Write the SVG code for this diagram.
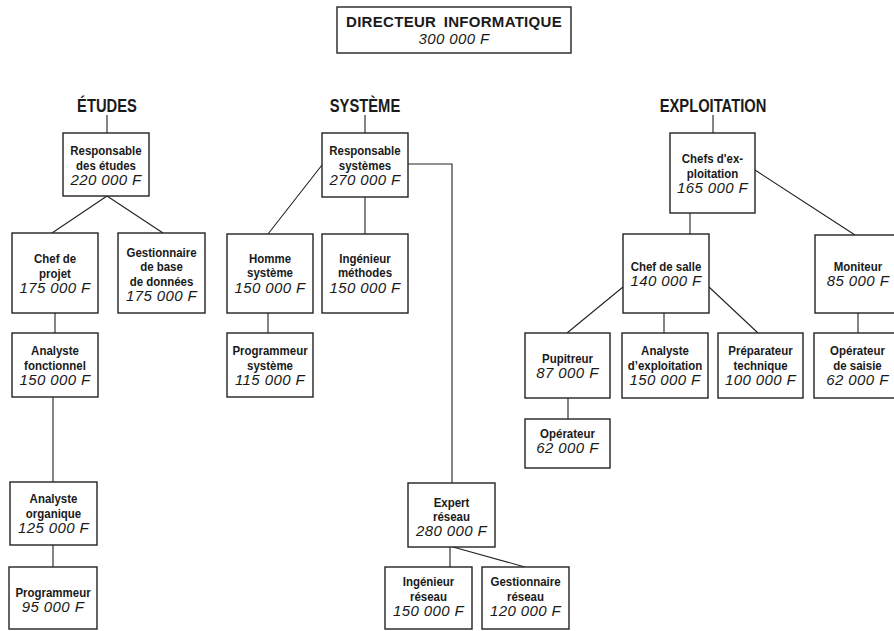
<svg xmlns="http://www.w3.org/2000/svg" width="894" height="631" viewBox="0 0 894 631">
<style>
.b{fill:#fff;stroke:#222;stroke-width:1.4}
.c{fill:none;stroke:#222;stroke-width:1.1}
text{fill:#1a1a1a;text-anchor:middle}
.l{font-family:"Liberation Sans",Arial,sans-serif;font-weight:bold;font-size:13.5px}
.n{font-family:"Liberation Sans",Arial,sans-serif;font-style:italic;font-size:15px;letter-spacing:0.4px}
.h{font-family:"Liberation Sans",Arial,sans-serif;font-weight:bold;font-size:18px}
.t{font-family:"Liberation Sans",Arial,sans-serif;font-weight:bold;font-size:15px;letter-spacing:0.3px;word-spacing:3px}
</style>
<rect width="894" height="631" fill="#fff"/>
<g id="connectors">
<path class="c" d="M107 115V133M107 196L52 233M107 196L163 233M55 313V333M53 397V482M53 545V567"/>
<path class="c" d="M365 115V133M322 165L268 234M365 197V234M268 313V333M408 164H452V483M450 547V567M453 547L525 567"/>
<path class="c" d="M713 115V133M690 213V234M755 170L855 235M623 287L567 333M664 313V333M709 287L758 333M568 398V419M858 313V333"/>
</g>
<g id="directeur"><rect class="b" x="337" y="7" width="234" height="46"/><text class="t" x="454" y="27">DIRECTEUR INFORMATIQUE</text><text class="n" x="454" y="43.5">300 000 F</text></g>
<g id="h-etudes"><text class="h" transform="translate(107 112) scale(.82 1)">ÉTUDES</text></g>
<g id="h-systeme"><text class="h" transform="translate(365 112) scale(.82 1)">SYSTÈME</text></g>
<g id="h-exploitation"><text class="h" transform="translate(713 112) scale(.82 1)">EXPLOITATION</text></g>
<g id="resp-etudes"><rect class="b" x="63" y="133" width="86" height="63"/><text class="l" transform="translate(106 155) scale(.85 1)">Responsable</text><text class="l" transform="translate(106 170) scale(.85 1)">des études</text><text class="n" x="106" y="185">220 000 F</text></g>
<g id="chef-projet"><rect class="b" x="12" y="233" width="86" height="80"/><text class="l" transform="translate(55 263) scale(.85 1)">Chef de</text><text class="l" transform="translate(55 278) scale(.85 1)">projet</text><text class="n" x="55" y="293">175 000 F</text></g>
<g id="gest-bdd"><rect class="b" x="118" y="233" width="87" height="80"/><text class="l" transform="translate(161.5 257) scale(.85 1)">Gestionnaire</text><text class="l" transform="translate(161.5 271) scale(.85 1)">de base</text><text class="l" transform="translate(161.5 286) scale(.85 1)">de données</text><text class="n" x="161.5" y="301">175 000 F</text></g>
<g id="analyste-fonc"><rect class="b" x="12" y="333" width="86" height="64"/><text class="l" transform="translate(55 355) scale(.85 1)">Analyste</text><text class="l" transform="translate(55 370) scale(.85 1)">fonctionnel</text><text class="n" x="55" y="385">150 000 F</text></g>
<g id="analyste-org"><rect class="b" x="10" y="482" width="87" height="63"/><text class="l" transform="translate(53.5 503) scale(.85 1)">Analyste</text><text class="l" transform="translate(53.5 518) scale(.85 1)">organique</text><text class="n" x="53.5" y="533">125 000 F</text></g>
<g id="programmeur"><rect class="b" x="9" y="567" width="88" height="62"/><text class="l" transform="translate(53 597) scale(.85 1)">Programmeur</text><text class="n" x="53" y="612">95 000 F</text></g>
<g id="resp-systemes"><rect class="b" x="322" y="133" width="86" height="64"/><text class="l" transform="translate(365 155) scale(.85 1)">Responsable</text><text class="l" transform="translate(365 170) scale(.85 1)">systèmes</text><text class="n" x="365" y="185">270 000 F</text></g>
<g id="homme-systeme"><rect class="b" x="227" y="234" width="86" height="79"/><text class="l" transform="translate(270 263) scale(.85 1)">Homme</text><text class="l" transform="translate(270 277) scale(.85 1)">système</text><text class="n" x="270" y="293">150 000 F</text></g>
<g id="ing-methodes"><rect class="b" x="322" y="234" width="86" height="79"/><text class="l" transform="translate(365 263) scale(.85 1)">Ingénieur</text><text class="l" transform="translate(365 277) scale(.85 1)">méthodes</text><text class="n" x="365" y="293">150 000 F</text></g>
<g id="prog-systeme"><rect class="b" x="227" y="333" width="86" height="64"/><text class="l" transform="translate(270 355) scale(.85 1)">Programmeur</text><text class="l" transform="translate(270 370) scale(.85 1)">système</text><text class="n" x="270" y="385">115 000 F</text></g>
<g id="expert-reseau"><rect class="b" x="408" y="483" width="87" height="64"/><text class="l" transform="translate(451.5 507) scale(.85 1)">Expert</text><text class="l" transform="translate(451.5 521) scale(.85 1)">réseau</text><text class="n" x="451.5" y="536">280 000 F</text></g>
<g id="ing-reseau"><rect class="b" x="385" y="567" width="87" height="62"/><text class="l" transform="translate(428.5 586) scale(.85 1)">Ingénieur</text><text class="l" transform="translate(428.5 601) scale(.85 1)">réseau</text><text class="n" x="428.5" y="616">150 000 F</text></g>
<g id="gest-reseau"><rect class="b" x="482" y="567" width="87" height="62"/><text class="l" transform="translate(525.5 586) scale(.85 1)">Gestionnaire</text><text class="l" transform="translate(525.5 601) scale(.85 1)">réseau</text><text class="n" x="525.5" y="616">120 000 F</text></g>
<g id="chefs-exploitation"><rect class="b" x="670" y="133" width="85" height="80"/><text class="l" transform="translate(712.5 163) scale(.85 1)">Chefs d'ex-</text><text class="l" transform="translate(712.5 178) scale(.85 1)">ploitation</text><text class="n" x="712.5" y="193">165 000 F</text></g>
<g id="chef-salle"><rect class="b" x="623" y="234" width="86" height="79"/><text class="l" transform="translate(666 271) scale(.85 1)">Chef de salle</text><text class="n" x="666" y="285.5">140 000 F</text></g>
<g id="moniteur"><rect class="b" x="815" y="235" width="86" height="78"/><text class="l" transform="translate(858 271) scale(.85 1)">Moniteur</text><text class="n" x="858" y="285.5">85 000 F</text></g>
<g id="pupitreur"><rect class="b" x="525" y="333" width="85" height="65"/><text class="l" transform="translate(567.5 363) scale(.85 1)">Pupitreur</text><text class="n" x="567.5" y="378">87 000 F</text></g>
<g id="analyste-exploitation"><rect class="b" x="622" y="333" width="86" height="65"/><text class="l" transform="translate(665 355) scale(.85 1)">Analyste</text><text class="l" transform="translate(665 370) scale(.85 1)">d’exploitation</text><text class="n" x="665" y="385">150 000 F</text></g>
<g id="preparateur"><rect class="b" x="718" y="333" width="85" height="65"/><text class="l" transform="translate(760.5 355) scale(.85 1)">Préparateur</text><text class="l" transform="translate(760.5 370) scale(.85 1)">technique</text><text class="n" x="760.5" y="385">100 000 F</text></g>
<g id="operateur-saisie"><rect class="b" x="814" y="333" width="87" height="65"/><text class="l" transform="translate(857.5 355) scale(.85 1)">Opérateur</text><text class="l" transform="translate(857.5 370) scale(.85 1)">de saisie</text><text class="n" x="857.5" y="385">62 000 F</text></g>
<g id="operateur"><rect class="b" x="525" y="419" width="85" height="49"/><text class="l" transform="translate(567.5 438) scale(.85 1)">Opérateur</text><text class="n" x="567.5" y="453">62 000 F</text></g>
</svg>
